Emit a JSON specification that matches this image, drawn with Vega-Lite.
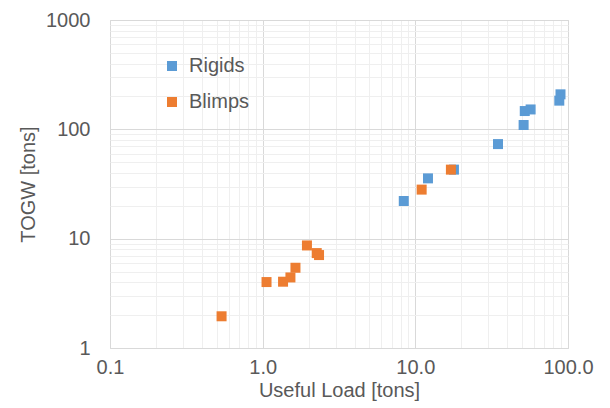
{
  "$schema": "https://vega.github.io/schema/vega-lite/v6.json",
  "autosize": "none",
  "width": 458,
  "height": 328,
  "padding": {"left": 110, "top": 20, "right": 42, "bottom": 60},
  "background": "white",
  "config": {
    "font": "Liberation Sans",
    "view": {"stroke": "#d9d9d9", "strokeWidth": 1},
    "axis": {
      "labelFont": "Liberation Sans",
      "titleFont": "Liberation Sans",
      "labelColor": "#595959",
      "titleColor": "#595959",
      "labelFontSize": 20,
      "titleFontSize": 20,
      "titleFontWeight": "normal",
      "ticks": false,
      "domain": false
    },
    "legend": {
      "labelFont": "Liberation Sans",
      "labelFontSize": 20,
      "labelColor": "#595959"
    }
  },
  "data": {
    "values": [
      {"type": "Rigids", "load": 8.4, "togw": 22.1},
      {"type": "Rigids", "load": 12.1, "togw": 35.6},
      {"type": "Rigids", "load": 17.9, "togw": 42.8},
      {"type": "Rigids", "load": 34.8, "togw": 73.3},
      {"type": "Rigids", "load": 51.2, "togw": 109.5},
      {"type": "Rigids", "load": 52.1, "togw": 147},
      {"type": "Rigids", "load": 56.9, "togw": 152},
      {"type": "Rigids", "load": 87.7, "togw": 183},
      {"type": "Rigids", "load": 89.3, "togw": 209},
      {"type": "Blimps", "load": 0.538, "togw": 1.95},
      {"type": "Blimps", "load": 1.06, "togw": 4.01},
      {"type": "Blimps", "load": 1.36, "togw": 4.04},
      {"type": "Blimps", "load": 1.52, "togw": 4.42},
      {"type": "Blimps", "load": 1.64, "togw": 5.42},
      {"type": "Blimps", "load": 1.95, "togw": 8.67},
      {"type": "Blimps", "load": 2.26, "togw": 7.38},
      {"type": "Blimps", "load": 2.34, "togw": 7.08},
      {"type": "Blimps", "load": 11.0, "togw": 28.1},
      {"type": "Blimps", "load": 17.1, "togw": 42.8}
    ]
  },
  "mark": {"type": "point", "shape": "square", "filled": true, "size": 100, "opacity": 1},
  "encoding": {
    "x": {
      "field": "load",
      "type": "quantitative",
      "title": "Useful Load [tons]",
      "scale": {"type": "log", "domain": [0.1, 100], "nice": false},
      "axis": {
        "values": [0.1,0.2,0.3,0.4,0.5,0.6,0.7,0.8,0.9,1,2,3,4,5,6,7,8,9,10,20,30,40,50,60,70,80,90,100],
        "format": ".1f",
        "labelExpr": "indexof([0.1,1,10,100], datum.value) >= 0 ? datum.label : ''",
        "labelPadding": 9,
        "titlePadding": 3,
        "labelFlush": false,
        "labelOverlap": false,
        "gridColor": {"condition": {"test": "indexof([0.1,1,10,100], datum.value) >= 0", "value": "#d9d9d9"}, "value": "#efefef"}
      }
    },
    "y": {
      "field": "togw",
      "type": "quantitative",
      "title": "TOGW [tons]",
      "scale": {"type": "log", "domain": [1, 1000], "nice": false},
      "axis": {
        "values": [1,2,3,4,5,6,7,8,9,10,20,30,40,50,60,70,80,90,100,200,300,400,500,600,700,800,900,1000],
        "format": "d",
        "labelExpr": "indexof([1,10,100,1000], datum.value) >= 0 ? datum.label : ''",
        "labelPadding": 20,
        "titlePadding": 7,
        "labelFlush": false,
        "labelOverlap": false,
        "gridColor": {"condition": {"test": "indexof([1,10,100,1000], datum.value) >= 0", "value": "#d9d9d9"}, "value": "#efefef"}
      }
    },
    "color": {
      "field": "type",
      "type": "nominal",
      "scale": {"domain": ["Rigids", "Blimps"], "range": ["#5b9bd5", "#ed7d31"]},
      "legend": {
        "title": null,
        "orient": "none",
        "legendX": 52,
        "legendY": 36,
        "symbolType": "square",
        "symbolSize": 100,
        "symbolStrokeWidth": 0,
        "labelOffset": 7,
        "rowPadding": 16,
        "symbolOpacity": 1
      }
    }
  }
}
